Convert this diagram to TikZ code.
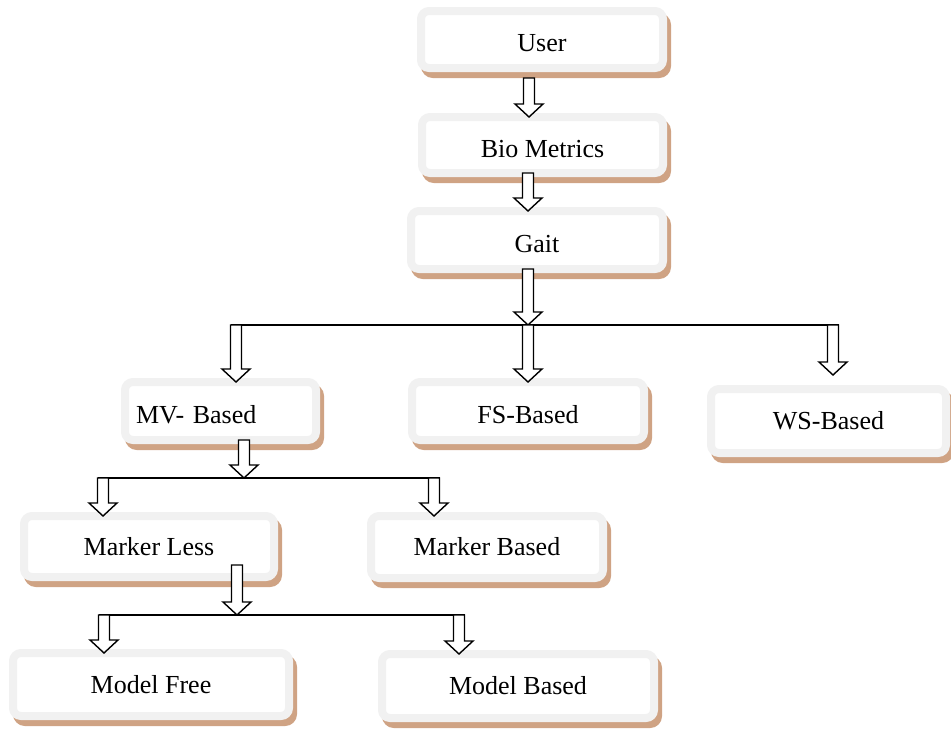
\documentclass[tikz,border=0pt]{standalone}
\usepackage{fontspec}
\setmainfont{Liberation Serif}
\usetikzlibrary{shadows,calc}
\definecolor{boxgray}{HTML}{F1F1F1}
\definecolor{boxshade}{HTML}{CFA384}

% hollow block arrow: y of start from #1, tip at #2
\newcommand{\blockarrow}[2]{%
  \coordinate (bs0) at (#1);
  \coordinate (bt) at (#2);
  \coordinate (bs) at (bt |- bs0);
  \coordinate (bh) at ([yshift=13pt]bt);
  \draw[harrow] ([xshift=-5.5pt]bs) -- ([xshift=-5.5pt]bh) -- ([xshift=-14pt]bh)
    -- (bt) -- ([xshift=14pt]bh) -- ([xshift=5.5pt]bh) -- ([xshift=5.5pt]bs) -- cycle;}

\begin{document}
\begin{tikzpicture}[x=1pt, y=-1pt, font=\fontsize{26}{30}\selectfont,
    box/.style={draw=boxgray, line width=8pt, fill=white, rounded corners=8pt,
                inner sep=0pt, outer sep=0pt,
                drop shadow={shadow xshift=4pt, shadow yshift=-6pt, draw=boxshade,
                             fill=boxshade, line width=8pt, opacity=1}},
    lowtext/.style={text height=24pt, text depth=0pt},
    harrow/.style={draw=black, fill=white, line width=1.4pt, line join=miter},
    hline/.style={draw=black, line width=1.4pt}]
  \useasboundingbox (0,0) rectangle (951,729);
  % boxes, top to bottom
  \node[box, lowtext, minimum width=242, minimum height=57] (user) at (542,39.5) {User};
  \node[box, lowtext, minimum width=241, minimum height=56] (bio) at (542.5,145) {Bio Metrics};
  \node[box, lowtext, minimum width=252, minimum height=58] (gait) at (537,240) {Gait};
  \node[box, lowtext, minimum width=191, minimum height=58, text width=169, align=left] (mv) at (220.5,411) {MV- Based};
  \node[box, lowtext, minimum width=232, minimum height=58] (fs) at (528,411) {FS-Based};
  \node[box, minimum width=235, minimum height=64] (ws) at (828.5,421) {WS-Based};
  \node[box, minimum width=250, minimum height=61] (ml) at (149,546.5) {Marker Less};
  \node[box, minimum width=232, minimum height=62] (mb) at (487,547) {Marker Based};
  \node[box, minimum width=276, minimum height=63] (mf) at (151,684.5) {Model Free};
  \node[box, minimum width=272, minimum height=64] (mdb) at (518,686) {Model Based};
  % junction rows
  \coordinate (r1) at (528,325);
  \coordinate (r2) at (244,478);
  \coordinate (r3) at (237,615);
  \draw[hline] ([xshift=10pt]mv.north |- r1) -- ([xshift=10pt]ws.north |- r1);
  \draw[hline] ([xshift=-51.5pt]ml.north |- r2) -- ([xshift=-47pt]mb.north |- r2);
  \draw[hline] ([xshift=-52.5pt]mf.north |- r3) -- ([xshift=-53pt]mdb.north |- r3);
  % arrows
  \blockarrow{[yshift=-10pt]user.south}{[xshift=-13.5pt]bio.north}
  \blockarrow{bio.south}{[xshift=-9pt]gait.north}
  \blockarrow{gait.south}{r1}
  \blockarrow{r1}{[xshift=15.5pt]mv.north}
  \blockarrow{r1}{fs.north}
  \blockarrow{r1}{[xshift=4.5pt,yshift=14pt]ws.north}
  \blockarrow{mv.south}{r2}
  \blockarrow{r2}{[xshift=-46pt]ml.north}
  \blockarrow{r2}{[xshift=-53pt]mb.north}
  \blockarrow{[yshift=12pt]ml.south}{r3}
  \blockarrow{r3}{[xshift=-47pt]mf.north}
  \blockarrow{r3}{[xshift=-59pt]mdb.north}
\end{tikzpicture}
\end{document}
